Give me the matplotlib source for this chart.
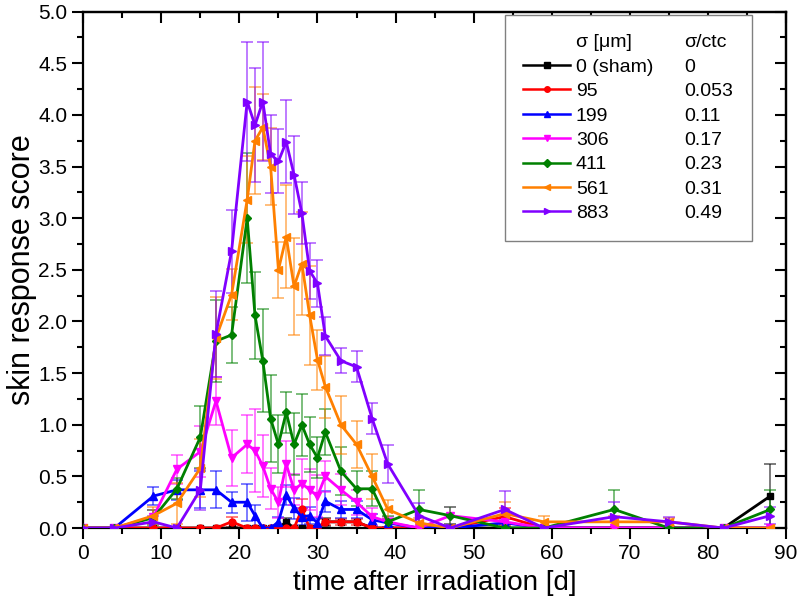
import numpy as np
import matplotlib
matplotlib.use("Agg")
import matplotlib.pyplot as plt
from matplotlib.lines import Line2D
from matplotlib.ticker import MultipleLocator

plt.rcParams['font.family'] = ['Liberation Sans', 'DejaVu Sans']

days = [0, 4, 9, 12, 15, 17, 19, 21, 22, 23, 24, 25, 26, 27, 28, 29, 30, 31,
        33, 35, 37, 39, 43, 47, 54, 59, 68, 75, 82, 88]

sigma_labels = ["0 (sham)", "95", "199", "306", "411", "561", "883"]
ctc_labels = ["0", "0.053", "0.11", "0.17", "0.23", "0.31", "0.49"]

s0 = [0, 0, 0, 0, 0, 0, 0, 0, 0, 0, 0, 0, 0.06, 0, 0, 0, 0, 0.06, 0.06, 0.06,
      0, 0, 0, 0, 0, 0, 0, 0, 0, 0.31]
s0_err = [0, 0, 0, 0, 0, 0, 0, 0, 0, 0, 0, 0, 0.04, 0, 0, 0, 0, 0.04, 0, 0,
          0, 0, 0, 0, 0, 0, 0, 0, 0, 0.31]

s95 = [0, 0, 0, 0, 0, 0, 0.06, 0, 0, 0, 0, 0, 0, 0, 0.18, 0, 0, 0.06, 0.06, 0.06,
       0, 0, 0, 0, 0.11, 0, 0, 0, 0, 0]
s95_err = [0, 0, 0, 0, 0, 0, 0.05, 0, 0, 0, 0, 0, 0, 0, 0.1, 0, 0, 0.03, 0.03, 0.03,
           0, 0, 0, 0, 0.08, 0, 0, 0, 0, 0]

s199 = [0, 0, 0.31, 0.37, 0.37, 0.37, 0.25, 0.25, 0.12, 0, 0, 0.06, 0.32, 0.19, 0.11,
        0.12, 0.05, 0.26, 0.18, 0.18, 0.08, 0.05, 0, 0, 0.05, 0, 0, 0, 0, 0]
s199_err = [0, 0, 0.09, 0.1, 0.18, 0.18, 0.1, 0.18, 0.1, 0, 0, 0.05, 0.1, 0.1, 0.08,
            0.08, 0.05, 0.1, 0.08, 0.08, 0.06, 0.04, 0, 0, 0.04, 0, 0, 0, 0, 0]

s306 = [0, 0, 0.11, 0.57, 0.74, 1.23, 0.68, 0.81, 0.75, 0.6, 0.38, 0.25, 0.62, 0.37,
        0.43, 0.37, 0.31, 0.5, 0.37, 0.25, 0.11, 0.06, 0, 0.12, 0.06, 0, 0, 0, 0, 0]
s306_err = [0, 0, 0.06, 0.14, 0.25, 0.23, 0.27, 0.28, 0.4, 0.3, 0.2, 0.15, 0.22, 0.15,
            0.24, 0.2, 0.2, 0.15, 0.15, 0.12, 0.08, 0.05, 0, 0.08, 0.05, 0, 0, 0, 0, 0]

s411 = [0, 0, 0.1, 0.38, 0.88, 1.81, 1.87, 3.0, 2.06, 1.62, 1.06, 0.81, 1.12, 0.81,
        1.0, 0.81, 0.68, 0.93, 0.55, 0.38, 0.38, 0.06, 0.18, 0.12, 0, 0, 0.18, 0, 0, 0.18]
s411_err = [0, 0, 0.07, 0.1, 0.3, 0.4, 0.27, 0.63, 0.42, 0.5, 0.42, 0.28, 0.2, 0.3,
            0.3, 0.27, 0.2, 0.22, 0.23, 0.17, 0.17, 0.06, 0.19, 0.08, 0, 0, 0.19, 0, 0, 0.19]

s561 = [0, 0, 0.12, 0.24, 0.58, 1.84, 2.26, 3.18, 3.75, 3.88, 3.5, 2.5, 2.82, 2.34,
        2.56, 2.06, 1.63, 1.37, 1.0, 0.81, 0.5, 0.18, 0.05, 0, 0.14, 0.06, 0.06, 0.06, 0, 0]
s561_err = [0, 0, 0.08, 0.2, 0.28, 0.4, 0.25, 0.42, 0.52, 0.32, 0.37, 0.27, 0.5, 0.47,
            0.5, 0.48, 0.29, 0.3, 0.28, 0.23, 0.22, 0.09, 0.05, 0, 0.11, 0.06, 0.06, 0.04, 0, 0]

s883 = [0, 0, 0.06, 0, 0.37, 1.88, 2.68, 4.13, 3.9, 4.13, 3.62, 3.55, 3.74, 3.42,
        3.05, 2.49, 2.37, 1.86, 1.62, 1.56, 1.06, 0.62, 0.12, 0, 0.18, 0, 0.11, 0.06, 0, 0.12]
s883_err = [0, 0, 0.06, 0, 0.2, 0.42, 0.4, 0.58, 0.55, 0.58, 0.38, 0.31, 0.4, 0.38,
            0.3, 0.27, 0.23, 0.18, 0.12, 0.15, 0.15, 0.18, 0.12, 0, 0.18, 0, 0.14, 0.05, 0, 0.08]

series = [s0, s95, s199, s306, s411, s561, s883]
errors = [s0_err, s95_err, s199_err, s306_err, s411_err, s561_err, s883_err]
colors = ["#000000", "#FF0000", "#0000FF", "#FF00FF", "#008000", "#FF8000", "#8000FF"]
markers = ["s", "o", "^", "v", "D", "<", ">"]
msizes = [5, 5, 5.5, 5.5, 4.5, 5.5, 5.5]

fig = plt.figure(figsize=(8.0, 6.14), dpi=100)
ax = fig.add_axes([0.104, 0.140, 0.8785, 0.841])

x = np.array(days, dtype=float)
handles = []
for y, e, c, m, ms in zip(series, errors, colors, markers, msizes):
    y = np.array(y, dtype=float)
    e = np.array(e, dtype=float)
    mask = e > 0
    ax.errorbar(x[mask], y[mask], yerr=e[mask], fmt='none', ecolor=c, alpha=0.6,
                elinewidth=1.2, capsize=4.5, capthick=1.2, zorder=2)
    ax.plot(x, y, color=c, marker=m, markersize=ms, linewidth=2.0, zorder=3)
    handles.append(Line2D([], [], color=c, marker=m, markersize=4, linewidth=1.8))

ax.set_xlim(0, 90)
ax.set_ylim(0, 5.0)
ax.xaxis.set_major_locator(MultipleLocator(10))
ax.xaxis.set_minor_locator(MultipleLocator(5))
ax.yaxis.set_major_locator(MultipleLocator(0.5))
ax.yaxis.set_minor_locator(MultipleLocator(0.25))
ax.yaxis.set_major_formatter(matplotlib.ticker.FormatStrFormatter('%.1f'))
ax.tick_params(which='both', direction='out', width=1.5, labelsize=15, top=False, right=False)
ax.tick_params(which='major', length=8)
ax.tick_params(which='minor', length=4)
for sp in ax.spines.values():
    sp.set_linewidth(1.6)

secx = ax.secondary_xaxis('top')
secx.xaxis.set_major_locator(MultipleLocator(10))
secx.xaxis.set_minor_locator(MultipleLocator(5))
secx.tick_params(which='both', direction='in', width=1.5, labeltop=False)
secx.tick_params(which='major', length=8)
secx.tick_params(which='minor', length=4)
secx.spines['top'].set_linewidth(1.6)

secy = ax.secondary_yaxis('right')
secy.yaxis.set_major_locator(MultipleLocator(0.5))
secy.yaxis.set_minor_locator(MultipleLocator(0.25))
secy.tick_params(which='both', direction='in', width=1.5, labelright=False)
secy.tick_params(which='major', length=8)
secy.tick_params(which='minor', length=4)
secy.spines['right'].set_linewidth(1.6)

ax.set_xlabel("time after irradiation [d]", fontsize=20, labelpad=5)
ax.set_ylabel("skin response score", fontsize=22, labelpad=1)

empty = Line2D([], [], linestyle='none')
leg_handles = [empty] + handles + [empty] * 8
leg_labels = ["σ [μm]"] + sigma_labels + ["σ/ctc"] + ctc_labels
leg = ax.legend(leg_handles, leg_labels, ncol=2, loc='upper left',
                bbox_to_anchor=(0.600, 0.993), borderaxespad=0, fontsize=14,
                handlelength=2.4, handletextpad=0.3, columnspacing=-1.1,
                labelspacing=0.35, borderpad=0.95, fancybox=False, framealpha=1,
                edgecolor='#808080')
leg.get_frame().set_linewidth(1.0)

fig.savefig("out.png", dpi=100)
